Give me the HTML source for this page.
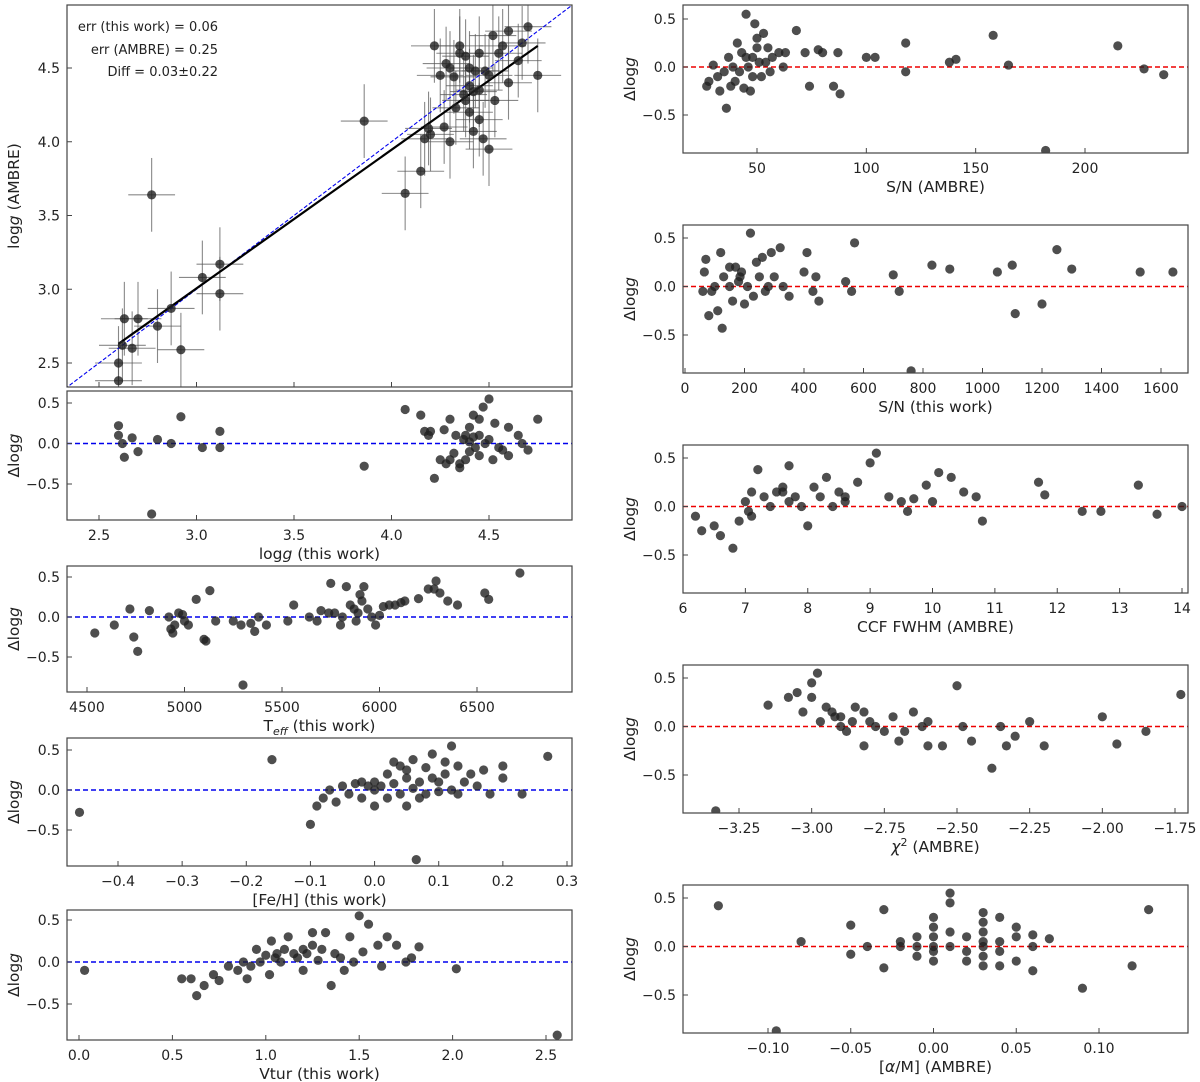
<!DOCTYPE html>
<html><head><meta charset="utf-8"><style>
html,body{margin:0;padding:0;background:#fff}
svg{display:block;font-family:"DejaVu Sans","Liberation Sans",sans-serif}
</style></head><body>
<svg id="fig" width="1200" height="1082" viewBox="0 0 1200 1082" xmlns="http://www.w3.org/2000/svg"></svg>
<script>
// ---- data ----
const loggThis=[2.6,2.6,2.62,2.63,2.67,2.7,2.77,2.8,2.87,2.92,3.03,3.12,3.12,3.86,4.07,4.15,4.17,4.19,4.2,4.22,4.25,4.27,4.3,4.3,4.33,4.35,4.37,4.38,4.4,4.4,4.42,4.43,4.45,4.45,4.47,4.48,4.5,4.5,4.52,4.53,4.55,4.6,4.6,4.65,4.67,4.7,4.75,4.35,4.32,4.45,4.38,4.4,4.28,4.57,4.42];
const dLogg=[0.22,0.1,0.0,-0.17,0.07,-0.1,-0.87,0.05,0.0,0.33,-0.05,0.15,-0.05,-0.28,0.42,0.35,0.15,0.1,0.15,-0.43,-0.2,0.17,0.3,-0.2,0.1,-0.25,0.05,0.1,0.2,-0.1,0.35,-0.05,0.1,-0.15,0.45,0.0,0.55,0.05,-0.2,0.25,-0.05,0.2,-0.15,0.1,0.0,-0.08,0.3,-0.3,-0.12,0.3,-0.2,0.02,-0.25,-0.08,0.08];
const teff=[4540,4640,4720,4740,4760,4820,4920,4930,4940,4950,4970,4990,5000,5020,5060,5100,5110,5130,5160,5250,5290,5300,5340,5360,5380,5420,5530,5560,5640,5680,5700,5740,5750,5770,5800,5810,5830,5850,5870,5880,5890,5910,5920,5940,5960,5980,6000,6020,6050,6080,6110,6130,6200,6250,6290,6310,6350,6400,6540,6560,6720,5900,6280];
const dTeff=[-0.2,-0.1,0.1,-0.25,-0.43,0.08,0.0,-0.15,-0.2,-0.1,0.05,0.03,-0.05,-0.1,0.22,-0.28,-0.3,0.33,-0.05,-0.05,-0.1,-0.85,-0.08,-0.18,0.0,-0.1,-0.05,0.15,0.0,-0.05,0.08,0.05,0.42,0.05,-0.1,0.0,0.38,0.15,0.1,-0.05,0.05,0.2,0.38,0.1,0.0,-0.1,0.02,0.13,0.15,0.15,0.18,0.2,0.23,0.35,0.45,0.3,0.2,0.15,0.3,0.22,0.55,0.28,0.35];
const feh=[-0.46,-0.16,-0.1,-0.09,-0.08,-0.07,-0.06,-0.05,-0.04,-0.03,-0.02,-0.01,0.0,0.0,0.01,0.02,0.02,0.03,0.04,0.04,0.05,0.05,0.06,0.06,0.065,0.07,0.07,0.08,0.08,0.09,0.09,0.1,0.1,0.11,0.11,0.12,0.12,0.13,0.13,0.14,0.15,0.16,0.17,0.18,0.2,0.2,0.23,0.27,0.03,0.0,-0.02,0.05];
const dFeh=[-0.28,0.38,-0.43,-0.2,-0.1,0.0,-0.15,0.05,-0.05,0.08,-0.1,0.05,-0.2,0.1,0.05,-0.1,0.2,0.08,-0.05,0.3,0.15,-0.2,0.02,0.38,-0.87,0.1,-0.1,0.28,-0.05,0.45,0.15,0.1,-0.02,0.2,0.35,0.0,0.55,0.3,-0.05,0.1,0.2,0.05,0.25,-0.05,0.15,0.3,-0.05,0.42,0.35,0.0,0.1,0.25];
const vtur=[0.03,0.55,0.6,0.63,0.67,0.72,0.75,0.8,0.85,0.88,0.9,0.92,0.95,0.97,1.0,1.02,1.03,1.05,1.06,1.08,1.1,1.12,1.15,1.17,1.2,1.2,1.22,1.25,1.28,1.3,1.32,1.35,1.37,1.4,1.42,1.45,1.47,1.5,1.52,1.55,1.6,1.62,1.65,1.7,1.75,1.78,1.82,2.02,2.56,1.25];
const dVtur=[-0.1,-0.2,-0.2,-0.4,-0.28,-0.15,-0.22,-0.05,-0.1,0.0,-0.2,-0.05,0.15,0.0,0.08,-0.15,0.25,0.05,0.1,0.0,0.15,0.3,0.1,0.05,0.15,-0.1,0.1,0.2,0.02,0.15,0.35,-0.28,0.1,0.05,-0.1,0.3,0.0,0.55,0.12,0.45,0.2,-0.05,0.3,0.2,0.0,0.05,0.18,-0.08,-0.87,0.35];
const snAmbre=[27,28,30,32,33,35,36,37,38,39,40,41,42,43,44,45,46,47,48,49,50,51,52,53,54,55,56,57,60,62,63,68,72,74,78,80,85,87,88,100,104,118,118,138,141,158,165,182,215,227,236,45,48,50];
const dSnAmbre=[-0.2,-0.15,0.02,-0.1,-0.25,-0.05,-0.43,0.1,-0.2,0.0,-0.15,0.25,-0.05,0.15,-0.22,0.55,0.0,-0.25,0.1,0.45,0.3,0.05,-0.1,0.35,0.05,0.2,-0.05,0.1,0.15,0.0,0.15,0.38,0.15,-0.2,0.18,0.15,-0.2,0.15,-0.28,0.1,0.1,0.25,-0.05,0.05,0.08,0.33,0.02,-0.87,0.22,-0.02,-0.08,0.1,-0.1,0.2];
const snThis=[60,65,70,80,90,100,110,120,125,130,150,160,170,180,185,200,210,220,230,240,250,260,270,280,290,300,320,330,350,400,410,430,440,450,540,560,570,700,720,760,830,890,1050,1100,1110,1200,1250,1300,1530,1640,190,150];
const dSnThis=[-0.05,0.15,0.28,-0.3,-0.05,0.0,-0.25,0.35,-0.43,0.1,0.0,-0.15,0.2,0.05,0.1,-0.18,0.0,0.55,-0.1,0.25,0.1,0.3,-0.05,0.0,0.35,0.1,0.4,0.0,-0.1,0.15,0.35,-0.05,0.1,-0.15,0.05,-0.05,0.45,0.12,-0.05,-0.87,0.22,0.18,0.15,0.22,-0.28,-0.18,0.38,0.18,0.15,0.15,0.15,0.2];
const ccf=[6.2,6.3,6.5,6.6,6.8,6.9,7.0,7.05,7.1,7.1,7.2,7.3,7.4,7.5,7.6,7.7,7.7,7.8,7.9,8.0,8.1,8.2,8.3,8.4,8.5,8.6,8.8,9.0,9.1,9.3,9.5,9.6,9.7,9.9,10.0,10.1,10.3,10.5,10.7,10.8,11.7,11.8,12.4,12.7,13.3,13.6,14.0,7.6,8.6];
const dCcf=[-0.1,-0.25,-0.2,-0.3,-0.43,-0.15,0.05,-0.05,-0.1,0.15,0.38,0.1,0.0,0.15,0.2,0.42,0.05,0.1,0.0,-0.2,0.2,0.1,0.3,0.0,0.15,0.1,0.25,0.45,0.55,0.1,0.05,-0.05,0.08,0.22,0.05,0.35,0.3,0.15,0.1,-0.15,0.25,0.12,-0.05,-0.05,0.22,-0.08,0.0,0.15,0.05];
const chi2=[-3.33,-3.15,-3.08,-3.05,-3.03,-3.0,-3.0,-2.98,-2.97,-2.95,-2.93,-2.9,-2.88,-2.85,-2.82,-2.8,-2.78,-2.75,-2.72,-2.7,-2.68,-2.65,-2.62,-2.6,-2.55,-2.5,-2.48,-2.45,-2.38,-2.35,-2.3,-2.25,-2.0,-1.95,-1.85,-1.73,-1.6,-1.55,-2.82,-2.86,-2.92,-2.6,-2.33,-2.2,-2.9];
const dChi2=[-0.87,0.22,0.3,0.35,0.15,0.3,0.45,0.55,0.05,0.2,0.15,0.1,-0.05,0.2,0.15,0.05,0.0,-0.05,0.1,-0.15,-0.05,0.15,0.0,0.05,-0.2,0.42,0.0,-0.15,-0.43,0.0,-0.1,0.05,0.1,-0.18,-0.05,0.33,0.08,-0.2,-0.2,0.05,0.1,-0.2,-0.2,-0.2,0.0];
const alphaM=[-0.13,-0.095,-0.08,-0.05,-0.05,-0.04,-0.03,-0.03,-0.02,-0.02,-0.01,-0.01,-0.01,0.0,0.0,0.0,0.0,0.0,0.0,0.01,0.01,0.01,0.01,0.02,0.02,0.02,0.03,0.03,0.03,0.03,0.03,0.03,0.03,0.04,0.04,0.04,0.04,0.05,0.05,0.05,0.06,0.06,0.06,0.07,0.09,0.12,0.13];
const dAlpha=[0.42,-0.87,0.05,0.22,-0.08,0.0,0.38,-0.22,0.0,0.05,0.0,-0.1,0.1,0.3,0.2,0.1,0.0,-0.05,-0.15,0.55,0.45,0.15,0.0,0.1,-0.05,-0.15,0.35,0.25,0.15,0.05,0.0,-0.1,-0.2,0.3,0.05,-0.05,-0.2,0.2,0.1,-0.15,0.12,0.0,-0.25,0.08,-0.43,-0.2,0.38];
const dTicks=[-0.5,0.0,0.5];
const dTickLabels=["−0.5","0.0","0.5"];

// ---- drawing ----
const NS="http://www.w3.org/2000/svg";
const svg=document.getElementById('fig');
function el(tag,attrs,parent){const e=document.createElementNS(NS,tag);for(const k in attrs)e.setAttribute(k,attrs[k]);(parent||svg).appendChild(e);return e;}
function lin(v1,p1,v2,p2){return v=>p1+(v-v1)*(p2-p1)/(v2-v1);}
function fmt(t,dec){let s=t.toFixed(dec);return s.replace('-','−');}

function panel(o){
  const g=el('g',{});
  
  
  const X=lin(...o.xa), Y=lin(...o.ya);
  const clipId='c'+o.name;
  const cp=el('clipPath',{id:clipId},g);el('rect',{x:o.x0,y:o.y0,width:o.x1-o.x0,height:o.y1-o.y0},cp);
  const inner=el('g',{'clip-path':'url(#'+clipId+')'},g);
  if(o.ref){const l=el('line',{x1:o.x0,x2:o.x1,y1:Y(0),y2:Y(0),stroke:o.ref,'stroke-width':1.4,'stroke-dasharray':'5,3'},inner);
    }
  if(o.extra)o.extra(inner,X,Y);
  const pts=el('g',{},inner);
  
  o.xs.forEach((v,i)=>{const c=el('circle',{cx:X(v),cy:Y(o.ys[i]),r:4.6,fill:'#222','fill-opacity':0.8},pts);
    });
  const fr=el('rect',{x:o.x0,y:o.y0,width:o.x1-o.x0,height:o.y1-o.y0,fill:'none',stroke:'#444','stroke-width':1.2},g);
  
  const xt=el('g',{},g);
  o.xticks.forEach((t,i)=>{const px=X(t);if(px<o.x0-1||px>o.x1+1)return;
    el('line',{x1:px,x2:px,y1:o.y1,y2:o.y1-5,stroke:'#444'},xt);
    if(o.xlab!==false){const tx=el('text',{x:px,y:o.y1+20,'text-anchor':'middle','font-size':14,fill:'#222'},xt);tx.textContent=o.xtl[i];}});
  const yt=el('g',{},g);
  o.yticks.forEach((t,i)=>{const py=Y(t);
    el('line',{x1:o.x0,x2:o.x0+5,y1:py,y2:py,stroke:'#444'},yt);
    const tx=el('text',{x:o.x0-7,y:py+5,'text-anchor':'end','font-size':14,fill:'#222'},yt);tx.textContent=o.ytl[i];});
  if(o.xtitle){const t=el('text',{x:(o.x0+o.x1)/2,y:o.y1+39,'text-anchor':'middle','font-size':15.5,fill:'#222'},g);
    t.innerHTML=o.xtitle;}
  const yx=o.x0-48, ym=(o.y0+o.y1)/2;
  const t=el('text',{x:yx,y:ym,'text-anchor':'middle','font-size':15.5,fill:'#222',transform:`rotate(-90 ${yx} ${ym})`},g);
  t.innerHTML=o.ytitle||'Δlog<tspan font-style="italic">g</tspan>';
  return g;
}
const dY=(pTop,pBot)=>[0.5,pTop,-0.5,pBot];
const tl=(arr,d)=>arr.map(v=>fmt(v,d));

// main panel
const mainTicks=[2.5,3.0,3.5,4.0,4.5];
panel({name:'main-logg-panel',x0:67,x1:572,y0:5,y1:387,xa:[2.5,99,4.5,489],ya:[4.5,68,2.5,363],
  xs:loggThis,ys:loggThis.map((v,i)=>v-dLogg[i]),xticks:mainTicks,xtl:tl(mainTicks,1),xlab:false,
  yticks:mainTicks,ytl:tl(mainTicks,1),ytitle:'log<tspan font-style="italic">g</tspan> (AMBRE)',
  extra:(g,X,Y)=>{
    const eb=el('g',{stroke:'#555','stroke-opacity':0.7,'stroke-width':1.1},g);
    
    loggThis.forEach((v,i)=>{const a=v-dLogg[i];
      el('line',{x1:X(v-0.12),x2:X(v+0.12),y1:Y(a),y2:Y(a)},eb);
      el('line',{x1:X(v),x2:X(v),y1:Y(a-0.25),y2:Y(a+0.25)},eb);});
    const d=el('line',{x1:X(2.3),y1:Y(2.3),x2:X(5),y2:Y(5),stroke:'#0000ee','stroke-width':1.1,'stroke-dasharray':'4,2'},g);
    
    const f=el('line',{x1:X(2.6),y1:Y(2.63),x2:X(4.75),y2:Y(4.65),stroke:'#000','stroke-width':2.2},g);
    
  }});
[['err (this work) = 0.06',31],['err (AMBRE) = 0.25',54],['Diff = 0.03±0.22',76]].forEach(([s,y])=>{
  const t=el('text',{x:218,y:y,'text-anchor':'end','font-size':13,fill:'#222'});t.textContent=s;
  });

panel({name:'logg-residual-panel',x0:67,x1:572,y0:391,y1:520,xa:[2.5,99,4.5,489],ya:dY(403,484),
  xs:loggThis,ys:dLogg,xticks:mainTicks,xtl:tl(mainTicks,1),yticks:dTicks,ytl:dTickLabels,ref:'#0000ee',
  xtitle:'log<tspan font-style="italic">g</tspan> (this work)'});
const teffT=[4500,5000,5500,6000,6500];
panel({name:'teff-residual-panel',x0:67,x1:572,y0:566,y1:692,xa:[4500,87,6500,477],ya:dY(577,657),
  xs:teff,ys:dTeff,xticks:teffT,xtl:teffT.map(String),yticks:dTicks,ytl:dTickLabels,ref:'#0000ee',
  xtitle:'T<tspan font-size="11" dy="4"><tspan font-style="italic">eff</tspan></tspan><tspan dy="-4"> (this work)</tspan>'});
const fehT=[-0.4,-0.3,-0.2,-0.1,0.0,0.1,0.2,0.3];
panel({name:'feh-residual-panel',x0:67,x1:572,y0:738,y1:866,xa:[-0.4,118,0.3,567],ya:dY(750,830),
  xs:feh,ys:dFeh,xticks:fehT,xtl:tl(fehT,1),yticks:dTicks,ytl:dTickLabels,ref:'#0000ee',xtitle:'[Fe/H] (this work)'});
const vtT=[0,0.5,1.0,1.5,2.0,2.5];
panel({name:'vtur-residual-panel',x0:67,x1:572,y0:910,y1:1040,xa:[0,79,2.5,546],ya:dY(920,1004),
  xs:vtur,ys:dVtur,xticks:vtT,xtl:tl(vtT,1),yticks:dTicks,ytl:dTickLabels,ref:'#0000ee',xtitle:'Vtur (this work)'});

const snaT=[50,100,150,200];
panel({name:'sn-ambre-panel',x0:683,x1:1188,y0:5,y1:153,xa:[50,757,200,1085],ya:dY(19,115),
  xs:snAmbre,ys:dSnAmbre,xticks:snaT,xtl:snaT.map(String),yticks:dTicks,ytl:dTickLabels,ref:'#ee0000',xtitle:'S/N (AMBRE)'});
const sntT=[0,200,400,600,800,1000,1200,1400,1600];
panel({name:'sn-this-panel',x0:683,x1:1188,y0:225,y1:373,xa:[0,685,1600,1161],ya:dY(238,335),
  xs:snThis,ys:dSnThis,xticks:sntT,xtl:sntT.map(String),yticks:dTicks,ytl:dTickLabels,ref:'#ee0000',xtitle:'S/N (this work)'});
const ccfT=[6,7,8,9,10,11,12,13,14];
panel({name:'ccf-fwhm-panel',x0:683,x1:1188,y0:445,y1:593,xa:[6,683,14,1182],ya:dY(458,555),
  xs:ccf,ys:dCcf,xticks:ccfT,xtl:ccfT.map(String),yticks:dTicks,ytl:dTickLabels,ref:'#ee0000',xtitle:'CCF FWHM (AMBRE)'});
const chiT=[-3.25,-3.0,-2.75,-2.5,-2.25,-2.0,-1.75];
panel({name:'chi2-panel',x0:683,x1:1188,y0:665,y1:813,xa:[-3.25,739,-1.75,1175],ya:dY(678,775),
  xs:chi2,ys:dChi2,xticks:chiT,xtl:tl(chiT,2),yticks:dTicks,ytl:dTickLabels,ref:'#ee0000',
  xtitle:'<tspan font-style="italic">χ</tspan><tspan font-size="11" dy="-6">2</tspan><tspan dy="6"> (AMBRE)</tspan>'});
const alT=[-0.10,-0.05,0.0,0.05,0.10];
panel({name:'alpha-m-panel',x0:683,x1:1188,y0:885,y1:1033,xa:[-0.1,768,0.1,1099],ya:dY(898,995),
  xs:alphaM,ys:dAlpha,xticks:alT,xtl:tl(alT,2),yticks:dTicks,ytl:dTickLabels,ref:'#ee0000',xtitle:'[<tspan font-style="italic">α</tspan>/M] (AMBRE)'});
</script>
</body></html>
